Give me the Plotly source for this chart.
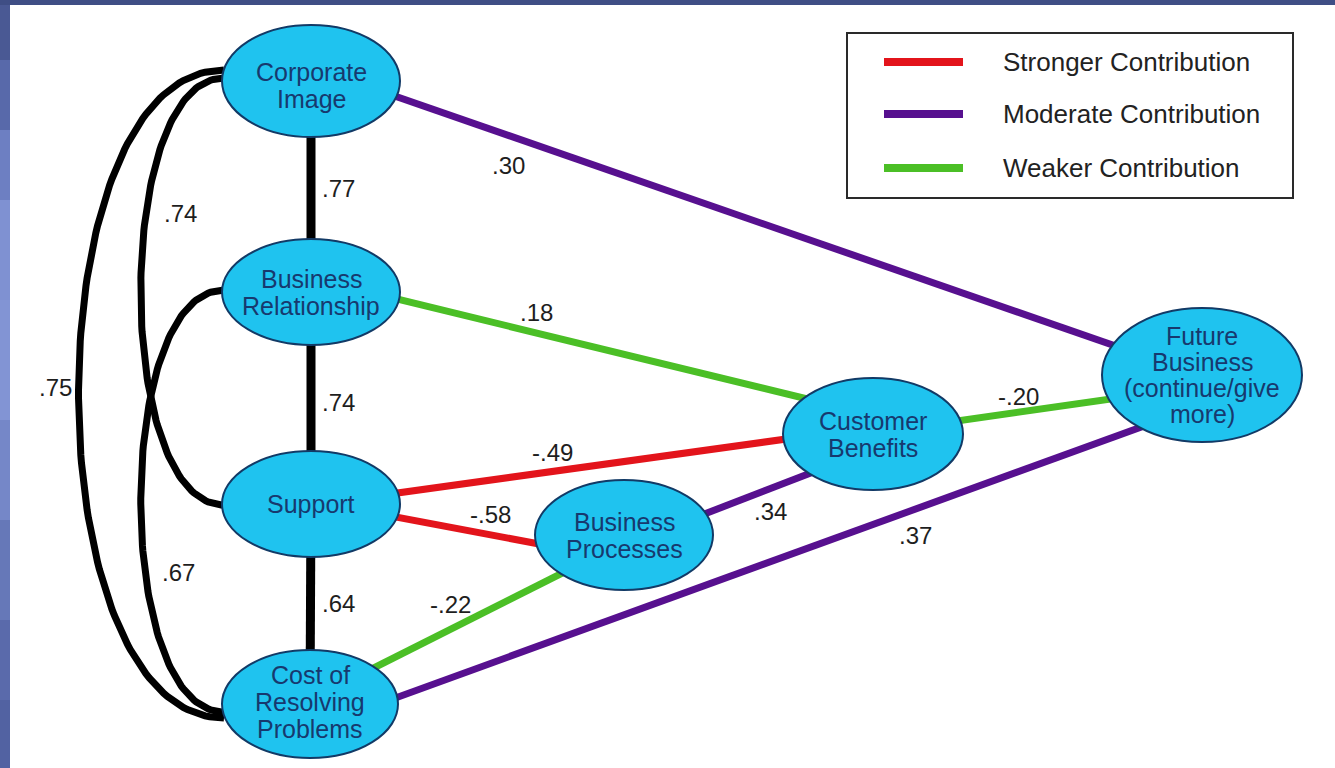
import plotly.graph_objects as go
import numpy as np

# ---------------- data ----------------
node_names = ["Corporate Image", "Business Relationship", "Support",
              "Cost of Resolving Problems", "Business Processes",
              "Customer Benefits", "Future Business"]
node_text = [["Corporate", "Image"], ["Business", "Relationship"], ["Support"],
             ["Cost of", "Resolving", "Problems"], ["Business", "Processes"],
             ["Customer", "Benefits"], ["Future", "Business", "(continue/give", "more)"]]

# directional paths (coloured)
path_from = ["Corporate Image", "Business Relationship", "Support", "Support",
             "Business Processes", "Customer Benefits", "Cost of Resolving Problems",
             "Cost of Resolving Problems"]
path_to = ["Future Business", "Customer Benefits", "Customer Benefits", "Business Processes",
           "Customer Benefits", "Future Business", "Business Processes", "Future Business"]
path_coef = [0.30, 0.18, -0.49, -0.58, 0.34, -0.20, -0.22, 0.37]
path_strength = ["Moderate", "Weaker", "Stronger", "Stronger",
                 "Moderate", "Weaker", "Weaker", "Moderate"]

# correlations (black)
corr_from = ["Corporate Image", "Business Relationship", "Support",
             "Corporate Image", "Corporate Image", "Business Relationship"]
corr_to = ["Business Relationship", "Support", "Cost of Resolving Problems",
           "Support", "Cost of Resolving Problems", "Cost of Resolving Problems"]
corr_coef = [0.77, 0.74, 0.64, 0.74, 0.75, 0.67]

legend_levels = ["Stronger", "Moderate", "Weaker"]
legend_labels = ["Stronger Contribution", "Moderate Contribution", "Weaker Contribution"]

# ---------------- layout / styling (pixel space) ----------------
W, H = 1335, 768
node_pos = {  # centre x, centre y, radius x, radius y
    "Corporate Image": (311, 81, 89, 56),
    "Business Relationship": (311, 292, 89, 53),
    "Support": (311, 504, 89, 53),
    "Cost of Resolving Problems": (310, 704, 88, 54),
    "Business Processes": (624, 535, 89, 55),
    "Customer Benefits": (873, 434, 90, 56),
    "Future Business": (1202, 375, 100, 67),
}
text_dy = {"Corporate Image": 4, "Cost of Resolving Problems": -2}
line_gap = {"Future Business": 26}

# port offsets (dy at source, dy at target) for coloured paths
path_ports = [(-14, 1), (-14, -19), (1, -7), (-3, 25), (10, 15), (-1, 11), (-4, 7), (25, 30)]
path_label_pos = [(508, 165), (536, 312), (552, 452), (490, 514),
                  (770, 511), (1018, 396), (450, 604), (915, 535)]

# correlations: None = straight centre line, else (dy src, dy tgt, control x)
corr_curve = [None, None, None, (-3, 1, 113), (-11, 14, 30), (-2, 8, 113)]
corr_label_pos = [(338, 188), (338, 402), (338, 603), (180, 213), (55, 387), (178, 572)]

colors = {"Stronger": "#e3141b", "Moderate": "#57108f", "Weaker": "#4bbf26"}
FONT = "Liberation Sans, Arial, sans-serif"


def fmt(v):
    s = f"{v:.2f}"
    return s.replace("0.", ".", 1)


fig = go.Figure()

# correlations
for f, t, c, curve in zip(corr_from, corr_to, corr_coef, corr_curve):
    x0, y0, rx0, ry0 = node_pos[f]
    x1, y1, rx1, ry1 = node_pos[t]
    if curve is None:
        xs, ys = [x0, x1], [y0, y1]
        width = 9
    else:
        dy0, dy1, cx = curve
        px0, py0 = x0 - rx0 + 2, y0 + dy0
        px1, py1 = x1 - rx1 + 2, y1 + dy1
        tt = np.linspace(0, 1, 120)
        P = np.array([[px0, py0], [cx, py0], [cx, py1], [px1, py1]], dtype=float)
        B = ((1 - tt) ** 3)[:, None] * P[0] + (3 * (1 - tt) ** 2 * tt)[:, None] * P[1] \
            + (3 * (1 - tt) * tt ** 2)[:, None] * P[2] + (tt ** 3)[:, None] * P[3]
        xs, ys = B[:, 0], B[:, 1]
        width = 7
    fig.add_trace(go.Scatter(x=xs, y=ys, mode="lines", hoverinfo="skip",
                             line=dict(color="#000000", width=width), showlegend=False))

# coloured paths
for f, t, s, (d0, d1) in zip(path_from, path_to, path_strength, path_ports):
    x0, y0, _, _ = node_pos[f]
    x1, y1, _, _ = node_pos[t]
    fig.add_trace(go.Scatter(x=[x0, x1], y=[y0 + d0, y1 + d1], mode="lines", hoverinfo="skip",
                             line=dict(color=colors[s], width=7), showlegend=False))

shapes = []
# background frame
shapes.append(dict(type="rect", xref="x", yref="y", x0=0, x1=W, y0=0, y1=H,
                   fillcolor="#4e5d98", line_width=0, layer="below"))
band_y = [0, 60, 130, 200, 300, 420, 520, 620, 700, 768]
band_c = ["#4a5994", "#5869aa", "#6d7fc2", "#7f91d2", "#8294d4", "#7587c8", "#6678b8", "#5a6aab", "#5262a2"]
for i in range(len(band_c)):
    shapes.append(dict(type="rect", xref="x", yref="y", x0=0, x1=10, y0=band_y[i], y1=band_y[i + 1],
                       fillcolor=band_c[i], line_width=0, layer="below"))
shapes.append(dict(type="rect", xref="x", yref="y", x0=0, x1=W, y0=0, y1=5,
                   fillcolor="#3f4e85", line_width=0, layer="below"))
shapes.append(dict(type="rect", xref="x", yref="y", x0=10, x1=W, y0=5, y1=H,
                   fillcolor="#ffffff", line_width=0, layer="below"))

# nodes
for n in node_names:
    cx, cy, rx, ry = node_pos[n]
    shapes.append(dict(type="circle", xref="x", yref="y", x0=cx - rx, x1=cx + rx,
                       y0=cy - ry, y1=cy + ry, fillcolor="#1fc3ef",
                       line=dict(color="#123a66", width=2), layer="above"))

# legend box and samples
shapes.append(dict(type="rect", xref="x", yref="y", x0=847, x1=1293, y0=33, y1=198,
                   fillcolor="rgba(0,0,0,0)", line=dict(color="#2a2a2a", width=2), layer="above"))
legend_y = [62, 114, 168]
for lvl, ly in zip(legend_levels, legend_y):
    shapes.append(dict(type="line", xref="x", yref="y", x0=884, x1=963, y0=ly, y1=ly,
                       line=dict(color=colors[lvl], width=8), layer="above"))

annotations = []
for n, lines in zip(node_names, node_text):
    cx, cy, rx, ry = node_pos[n]
    gap = line_gap.get(n, 27)
    k = len(lines)
    for i, ln in enumerate(lines):
        y = cy + text_dy.get(n, 0) + (i - (k - 1) / 2) * gap
        annotations.append(dict(x=cx, y=y, xref="x", yref="y", text=ln, showarrow=False,
                                xanchor="center", yanchor="middle",
                                font=dict(family=FONT, size=25, color="#17396e")))

for c, (lx, ly) in zip(path_coef + corr_coef, path_label_pos + corr_label_pos):
    annotations.append(dict(x=lx, y=ly, xref="x", yref="y", text=fmt(c), showarrow=False,
                            xanchor="center", yanchor="middle",
                            font=dict(family=FONT, size=24, color="#1e1e1e")))

for lab, ly in zip(legend_labels, legend_y):
    annotations.append(dict(x=1001, y=ly, xref="x", yref="y", text=lab, showarrow=False,
                            xanchor="left", yanchor="middle",
                            font=dict(family=FONT, size=26, color="#222222")))

fig.update_layout(
    width=W, height=H, margin=dict(l=0, r=0, t=0, b=0),
    paper_bgcolor="#ffffff", plot_bgcolor="#ffffff",
    xaxis=dict(range=[0, W], visible=False, fixedrange=True),
    yaxis=dict(range=[H, 0], visible=False, fixedrange=True),
    shapes=shapes, annotations=annotations, showlegend=False,
)

fig.write_html("out.html", config={"displayModeBar": False},
               post_script="document.body.style.margin='0';document.body.style.overflow='hidden';")
